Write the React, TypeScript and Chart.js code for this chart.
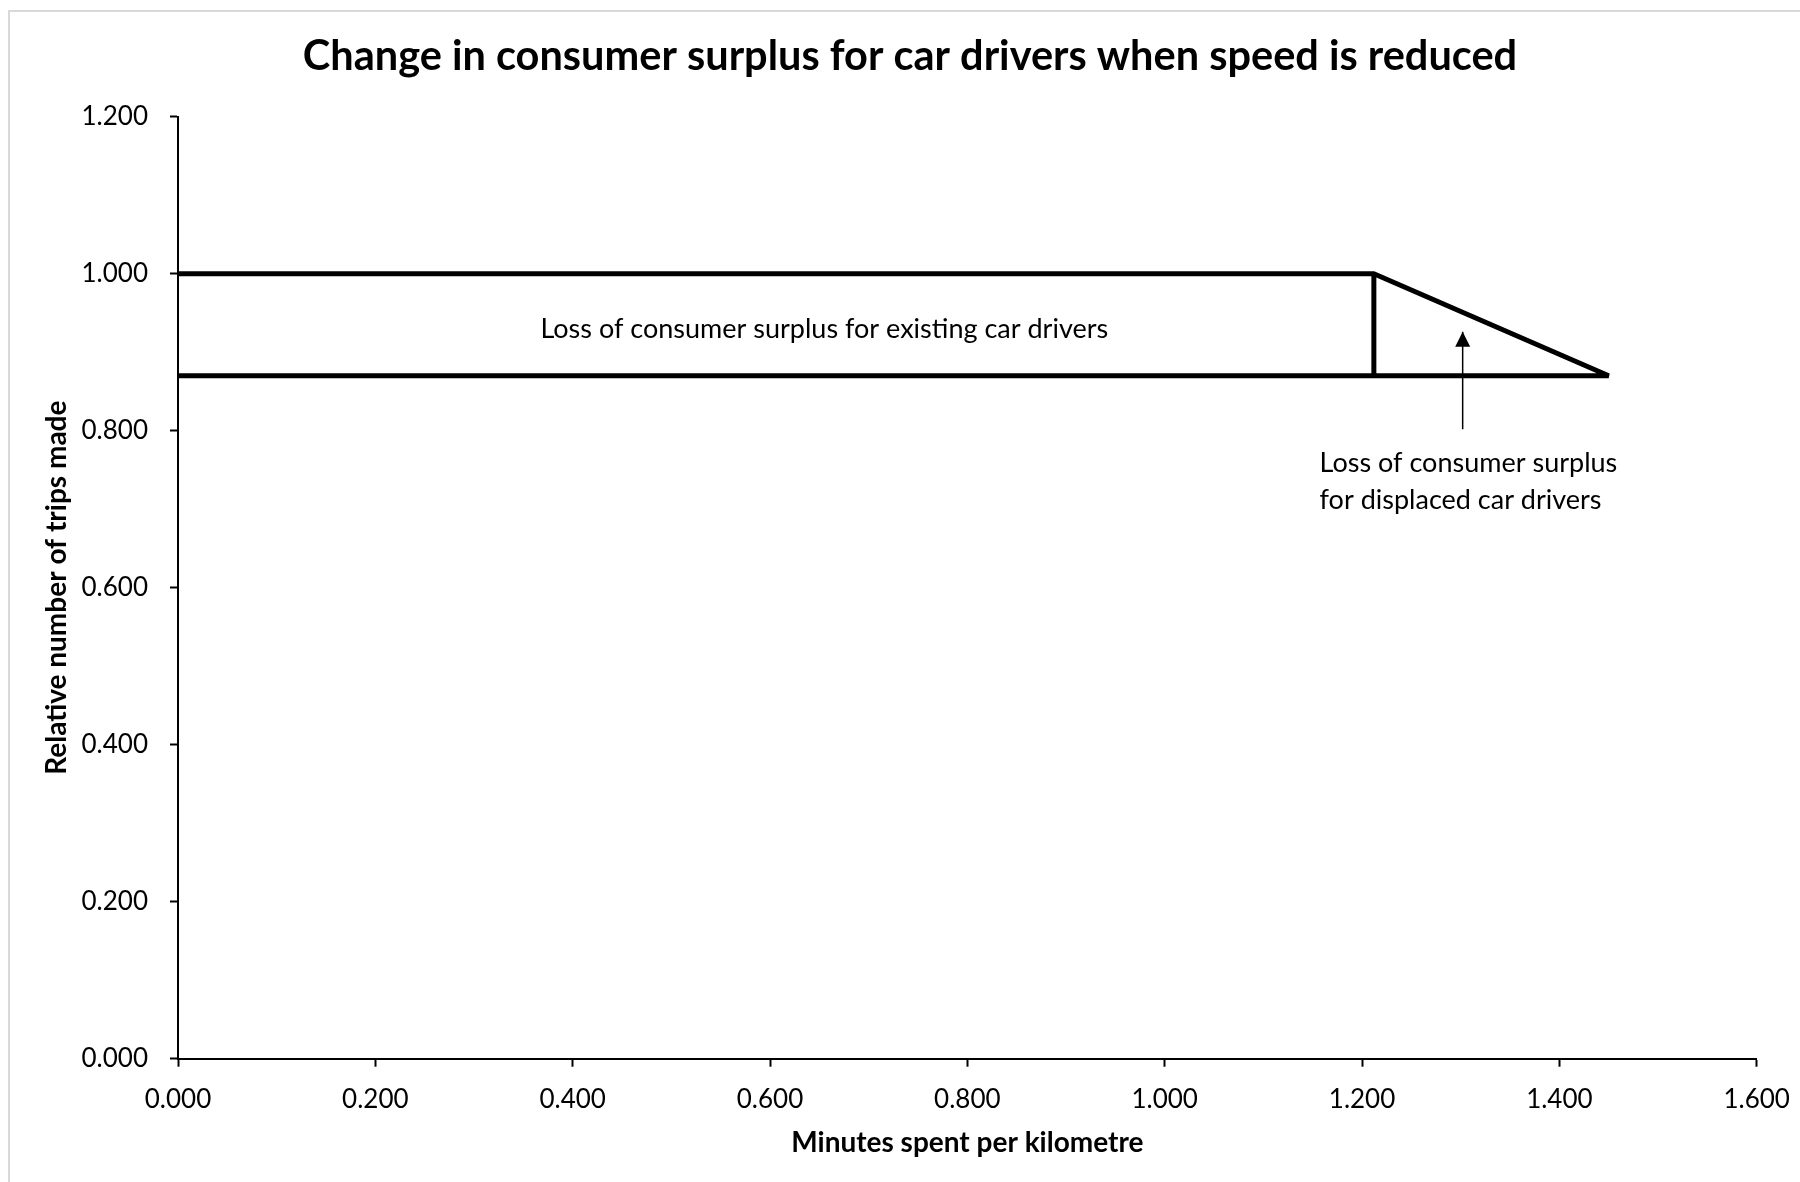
import React, { useEffect, useRef } from "react";
import { Chart, registerables } from "chart.js";

Chart.register(...registerables);

const TITLE = "Change in consumer surplus for car drivers when speed is reduced";
const X_TITLE = "Minutes spent per kilometre";
const Y_TITLE = "Relative number of trips made";

const xRange = [0, 1.6];
const yRange = [0, 1.2];
const tickStep = 0.2;

// Outline: top line, slope down to new level, bottom line back to the axis
const outlineX = [0, 1.212, 1.45, 0];
const outlineY = [1.0, 1.0, 0.87, 0.87];
// Divider between the rectangle and the triangle
const dividerX = [1.212, 1.212];
const dividerY = [1.0, 0.87];
// Arrow pointing into the triangle (tail -> tip)
const arrowX = [1.302, 1.302];
const arrowY = [0.802, 0.926];

const existingLabel = "Loss of consumer surplus for existing car drivers";
const existingLabelAt = [0.655, 0.929];
const displacedLabel = ["Loss of consumer surplus", "for displaced car drivers"];
const displacedLabelAt = [1.157, 0.758];

const FONT = "Lato, 'Open Sans', sans-serif";

const toPoints = (xs: number[], ys: number[]) => xs.map((x, i) => ({ x, y: ys[i] }));

export default function App() {
  const ref = useRef<HTMLCanvasElement | null>(null);

  useEffect(() => {
    document.body.style.margin = "0";
    document.body.style.overflow = "hidden";
    const canvas = ref.current;
    if (!canvas) return;

    const framePlugin = {
      id: "frame",
      beforeDraw(chart: any) {
        const ctx = chart.ctx;
        ctx.save();
        ctx.fillStyle = "#ffffff";
        ctx.fillRect(0, 0, chart.width, chart.height);
        ctx.strokeStyle = "#d9d9d9";
        ctx.lineWidth = 2;
        ctx.beginPath();
        ctx.moveTo(9, chart.height + 5);
        ctx.lineTo(9, 11);
        ctx.lineTo(chart.width + 5, 11);
        ctx.stroke();
        // chart title
        ctx.fillStyle = "#000";
        ctx.font = `bold 41.5px ${FONT}`;
        ctx.textAlign = "center";
        ctx.textBaseline = "middle";
        ctx.fillText(TITLE, 910, 57);
        ctx.restore();
      },
    };

    const notesPlugin = {
      id: "notes",
      afterDatasetsDraw(chart: any) {
        const ctx = chart.ctx;
        const xs = chart.scales.x;
        const ys = chart.scales.y;
        ctx.save();
        // arrow head
        const tipX = xs.getPixelForValue(arrowX[1]);
        const tipY = ys.getPixelForValue(arrowY[1]);
        ctx.fillStyle = "#000";
        ctx.beginPath();
        ctx.moveTo(tipX, tipY);
        ctx.lineTo(tipX - 7.5, tipY + 15);
        ctx.lineTo(tipX + 7.5, tipY + 15);
        ctx.closePath();
        ctx.fill();

        ctx.font = `27px ${FONT}`;
        ctx.fillStyle = "#000";
        ctx.textBaseline = "middle";
        ctx.textAlign = "center";
        ctx.fillText(
          existingLabel,
          xs.getPixelForValue(existingLabelAt[0]),
          ys.getPixelForValue(existingLabelAt[1])
        );
        ctx.textAlign = "left";
        const lx = xs.getPixelForValue(displacedLabelAt[0]);
        const ly = ys.getPixelForValue(displacedLabelAt[1]);
        displacedLabel.forEach((line, i) => ctx.fillText(line, lx, ly + i * 37));
        ctx.restore();
      },
    };

    const lineStyle = {
      showLine: true,
      pointRadius: 0,
      pointHoverRadius: 0,
      borderColor: "#000",
      backgroundColor: "#000",
      fill: false,
      tension: 0,
      borderCapStyle: "butt",
      borderJoinStyle: "bevel",
    };

    const chart = new Chart(canvas, {
      type: "scatter",
      data: {
        datasets: [
          { ...lineStyle, data: toPoints(outlineX, outlineY), borderWidth: 5 } as any,
          { ...lineStyle, data: toPoints(dividerX, dividerY), borderWidth: 5 } as any,
          { ...lineStyle, data: toPoints(arrowX, arrowY), borderWidth: 1.5 } as any,
        ],
      },
      options: {
        animation: false,
        responsive: false,
        events: [],
        layout: { padding: { left: 0, right: 43.3, top: 116.7, bottom: 0 } },
        plugins: {
          legend: { display: false },
          tooltip: { enabled: false },
          title: { display: false },
        },
        scales: {
          x: {
            type: "linear",
            min: xRange[0],
            max: xRange[1],
            afterFit(scale: any) {
              scale.height = 123.3;
              scale.paddingLeft = 0;
              scale.paddingRight = 0;
            },
            ticks: {
              stepSize: tickStep,
              color: "#000",
              padding: 17,
              font: { family: FONT, size: 26 },
              callback: (v: any) => Number(v).toFixed(3),
              maxRotation: 0,
            },
            grid: {
              drawOnChartArea: false,
              drawTicks: true,
              tickLength: 8,
              tickWidth: 2,
              tickColor: "#000",
            },
            border: { display: true, color: "#000", width: 2 },
            title: {
              display: true,
              text: X_TITLE,
              color: "#000",
              font: { family: FONT, size: 28, weight: "bold", lineHeight: 1.2 },
              padding: { top: 0, bottom: 22 },
            },
          },
          y: {
            type: "linear",
            min: yRange[0],
            max: yRange[1],
            afterFit(scale: any) {
              scale.width = 178;
              scale.paddingTop = 0;
              scale.paddingBottom = 0;
            },
            ticks: {
              stepSize: tickStep,
              color: "#000",
              padding: 22,
              font: { family: FONT, size: 26 },
              callback: (v: any) => Number(v).toFixed(3),
            },
            grid: {
              drawOnChartArea: false,
              drawTicks: true,
              tickLength: 8,
              tickWidth: 2,
              tickColor: "#000",
            },
            border: { display: true, color: "#000", width: 2 },
            title: {
              display: true,
              text: Y_TITLE,
              color: "#000",
              font: { family: FONT, size: 28, weight: "bold", lineHeight: 1.2 },
              padding: { top: 40, bottom: 0 },
            },
          },
        },
      },
      plugins: [framePlugin, notesPlugin],
    } as any);

    return () => chart.destroy();
  }, []);

  return (
    <div style={{ position: "absolute", left: 0, top: 0, width: 1800, height: 1182 }}>
      <canvas ref={ref} width={1800} height={1182} style={{ width: 1800, height: 1182, display: "block" }} />
    </div>
  );
}
